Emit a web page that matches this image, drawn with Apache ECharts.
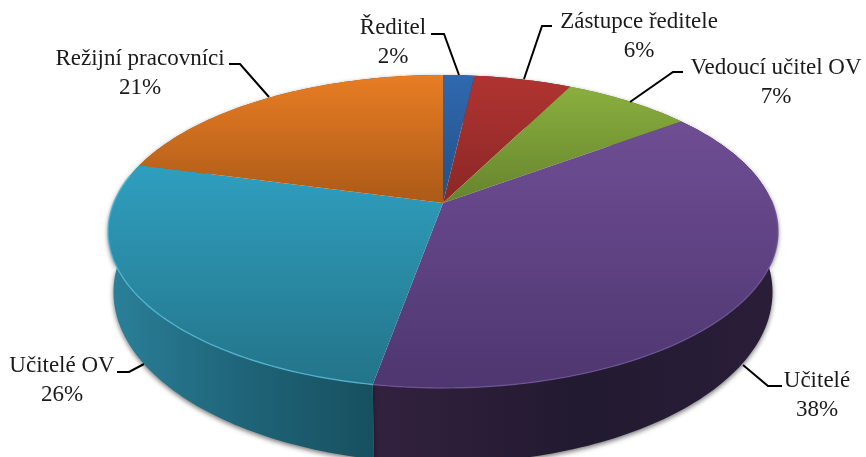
<!DOCTYPE html>
<html>
<head>
<meta charset="utf-8">
<style>
  html, body { margin: 0; padding: 0; background: #fff; }
  #chart { width: 866px; height: 457px; }
</style>
<script src="https://cdn.jsdelivr.net/npm/echarts@6/dist/echarts.min.js"></script>
</head>
<body>
<div id="chart"></div>
<script>
const categories = ['Ředitel', 'Zástupce ředitele', 'Vedoucí učitel OV', 'Učitelé', 'Učitelé OV', 'Režijní pracovníci'];
const shares = [1.8, 5.6, 7.4, 38, 26.4, 20.8];

// colours per slice: top of face, bottom of face
const faceTop = ['#3069b0', '#b03431', '#8aaf3e', '#6f4e94', '#2f9fbf', '#e87d23'];
const faceBottom = ['#234f85', '#8a2725', '#66842d', '#4e3670', '#237489', '#ab5a18'];
const wallColors = [
  ['#234f85', '#1f4575', '#1c3f6b'], ['#7a2321', '#722120', '#6a1e1c'], ['#5d7a2a', '#567127', '#4f6824'],
  ['#33213f', '#221a30', '#2a1d38'], ['#2a8199', '#1f6479', '#17505f'], ['#ab5a18', '#9a5116', '#8a4813']
];
const rimColors = ['#4a80c0', '#c04a46', '#9dbf55', '#6f5496', '#55bad6', '#f0963e'];

// label centre and leader line for each slice
const labelPos = [[393, 42], [639, 36], [776, 82], [817, 395], [62, 380], [140, 73]];
const leaders = [
  [[431, 34], [444, 34], [459, 75]],
  [[552, 26], [542, 26], [524, 79]],
  [[683, 72], [673, 72], [630, 102]],
  [[782, 386], [768, 386], [743, 365]],
  [[117, 372], [129, 372], [144, 364]],
  [[229, 64], [240, 64], [269, 97]]
];

// the pie is a tilted disc, so the hub sits above the middle of the ellipse
const topDisc = { cx: 443, cy: 203, a: 329.4, b: 151.3, k: 0.182 };
const baseDisc = { cx: 443, cy: 261, a: 324, b: 165.3, k: 0.182 };

const total = shares.reduce((s, v) => s + v, 0);
let run = 0;
const spans = shares.map(v => {
  const from = run / total * Math.PI * 2;
  run += v;
  return [from, run / total * Math.PI * 2];
});

function project(disc, angle) {
  const x = Math.sin(angle), y = Math.cos(angle);
  const d = 1 + disc.k * y;
  return [disc.cx + disc.a * x / d, disc.cy - disc.b * y / d];
}

function arc(disc, from, to) {
  const pts = [];
  const steps = Math.max(4, Math.ceil((to - from) / 0.02));
  for (let i = 0; i <= steps; i++) pts.push(project(disc, from + (to - from) * i / steps));
  return pts;
}

function vertical(c1, c2) {
  return new echarts.graphic.LinearGradient(0, 0, 0, 1, [{ offset: 0, color: c1 }, { offset: 1, color: c2 }]);
}
function horizontal(c) {
  return new echarts.graphic.LinearGradient(0, 0, 1, 0, [
    { offset: 0, color: c[0] }, { offset: 0.5, color: c[1] }, { offset: 1, color: c[2] }
  ]);
}

function renderWall(params) {
  const i = params.dataIndex, s = spans[i];
  const pts = arc(topDisc, s[0], s[1]).concat(arc(baseDisc, s[0], s[1]).reverse());
  return {
    type: 'polygon',
    shape: { points: pts },
    style: {
      fill: horizontal(wallColors[i]),
      shadowColor: 'rgba(0,0,0,0.55)', shadowBlur: 5, shadowOffsetY: 2
    }
  };
}

function renderFace(params) {
  const i = params.dataIndex, s = spans[i];
  const rim = arc(topDisc, s[0], s[1]);
  // the light bevel only shows on the near edge
  const from = Math.max(s[0], 1.55), to = Math.min(s[1], 4.9);
  const children = [{
    type: 'polygon',
    shape: { points: [[topDisc.cx, topDisc.cy]].concat(rim) },
    style: { fill: vertical(faceTop[i], faceBottom[i]) }
  }];
  if (to > from) {
    children.push({
      type: 'polyline',
      shape: { points: arc(topDisc, from, to) },
      style: { fill: null, stroke: rimColors[i], lineWidth: 1.4, opacity: 0.8 }
    });
  }
  return { type: 'group', children: children };
}

function renderLabel(params) {
  const i = params.dataIndex;
  return {
    type: 'group',
    children: [
      {
        type: 'polyline',
        shape: { points: leaders[i] },
        style: { fill: null, stroke: '#000', lineWidth: 2 }
      },
      {
        type: 'text',
        style: {
          x: labelPos[i][0], y: labelPos[i][1],
          text: categories[i] + '\n' + Math.round(shares[i]) + '%',
          fill: '#1a1a1a', align: 'center', verticalAlign: 'middle',
          font: '23px "Liberation Serif"', lineHeight: 29
        }
      }
    ]
  };
}

const chart = echarts.init(document.getElementById('chart'), null, { renderer: 'canvas' });
const rows = categories.map((name, i) => [i, shares[i]]);
chart.setOption({
  animation: false,
  backgroundColor: '#fff',
  series: [
    { type: 'custom', coordinateSystem: 'none', data: rows, renderItem: renderWall, z: 1, silent: true },
    { type: 'custom', coordinateSystem: 'none', data: rows, renderItem: renderFace, z: 2, silent: true },
    { type: 'custom', coordinateSystem: 'none', data: rows, renderItem: renderLabel, z: 3, silent: true }
  ]
});
</script>
</body>
</html>
